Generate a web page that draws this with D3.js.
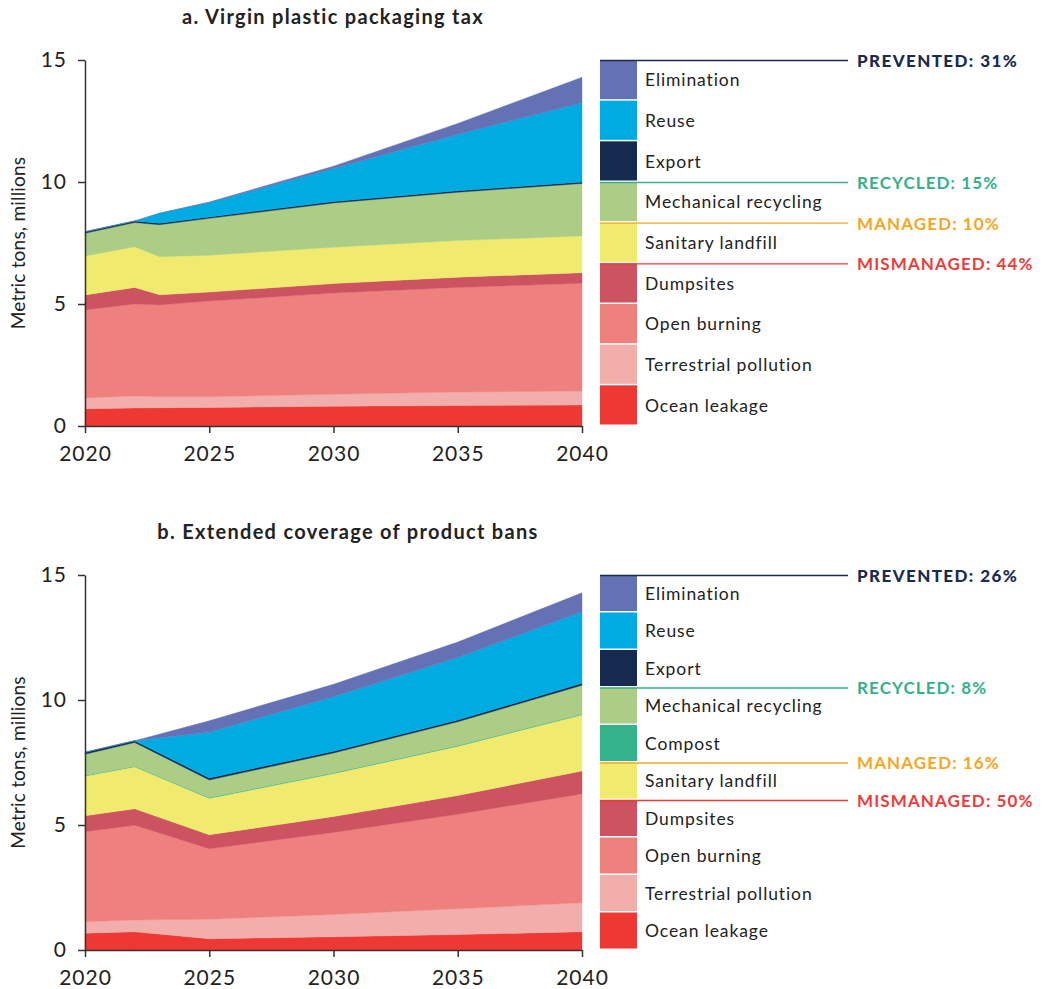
<!DOCTYPE html>
<html>
<head>
<meta charset="utf-8">
<script src="https://cdn.jsdelivr.net/npm/d3@7"></script>
<style>
  html, body { margin: 0; padding: 0; background: #fff; }
  svg { display: block; font-family: Lato, "Open Sans", sans-serif; }
</style>
</head>
<body>
<svg id="chart" width="1042" height="989"></svg>
<script>
// Panel a: virgin plastic packaging tax (million metric tons)
const taxYears        = [2020, 2022, 2023, 2025, 2030, 2035, 2040];
const taxOcean        = [0.71, 0.74, 0.75, 0.76, 0.81, 0.84, 0.86];
const taxTerrestrial  = [0.44, 0.49, 0.45, 0.44, 0.49, 0.55, 0.57];
const taxOpenBurning  = [3.60, 3.77, 3.76, 3.92, 4.15, 4.29, 4.42];
const taxDumpsites    = [0.62, 0.68, 0.42, 0.37, 0.39, 0.42, 0.43];
const taxLandfill     = [1.60, 1.67, 1.56, 1.51, 1.49, 1.50, 1.51];
const taxRecycling    = [0.93, 0.99, 1.31, 1.51, 1.81, 1.98, 2.15];
const taxExport       = [0.06, 0.06, 0.06, 0.06, 0.06, 0.06, 0.06];
const taxReuse        = [0.00, 0.00, 0.41, 0.59, 1.35, 2.31, 3.25];
const taxElimination  = [0.00, 0.00, 0.00, 0.02, 0.10, 0.45, 1.04];

// Panel b: extended coverage of product bans (million metric tons)
const banYears        = [2020, 2022, 2025, 2030, 2035, 2040];
const banOcean        = [0.67, 0.73, 0.45, 0.53, 0.62, 0.73];
const banTerrestrial  = [0.46, 0.47, 0.78, 0.89, 1.03, 1.16];
const banOpenBurning  = [3.60, 3.79, 2.82, 3.28, 3.78, 4.35];
const banDumpsites    = [0.64, 0.66, 0.56, 0.64, 0.75, 0.92];
const banLandfill     = [1.59, 1.68, 1.46, 1.72, 1.97, 2.25];
const banCompost      = [0.02, 0.02, 0.03, 0.03, 0.03, 0.03];
const banRecycling    = [0.85, 0.95, 0.70, 0.79, 0.95, 1.15];
const banExport       = [0.08, 0.07, 0.08, 0.07, 0.07, 0.08];
const banReuse        = [0.00, 0.00, 1.83, 2.18, 2.50, 2.86];
const banElimination  = [0.00, 0.00, 0.46, 0.50, 0.62, 0.76];

const yTicks = [0, 5, 10, 15];
const xTicks = [2020, 2025, 2030, 2035, 2040];

const taxGroups = [
  { name: "PREVENTED", pct: "31%", at: "Elimination" },
  { name: "RECYCLED", pct: "15%", at: "Mechanical recycling" },
  { name: "MANAGED", pct: "10%", at: "Sanitary landfill" },
  { name: "MISMANAGED", pct: "44%", at: "Dumpsites" }
];
const banGroups = [
  { name: "PREVENTED", pct: "26%", at: "Elimination" },
  { name: "RECYCLED", pct: "8%", at: "Mechanical recycling" },
  { name: "MANAGED", pct: "16%", at: "Sanitary landfill" },
  { name: "MISMANAGED", pct: "50%", at: "Dumpsites" }
];

const colors = {
  "Ocean leakage": "#ee3834",
  "Terrestrial pollution": "#f2aeab",
  "Open burning": "#ee817e",
  "Dumpsites": "#cd5361",
  "Sanitary landfill": "#f0ea6e",
  "Compost": "#35b38b",
  "Mechanical recycling": "#abcd86",
  "Export": "#172a4f",
  "Reuse": "#00abe1",
  "Elimination": "#6571b5"
};
const groupColors = {
  PREVENTED: "#1a2b50",
  RECYCLED: "#35b08a",
  MANAGED: "#f5a623",
  MISMANAGED: "#ee3b3b"
};

const svg = d3.select("#chart");

function drawPanel(opts) {
  const { title, titleX, years, series, groups, top, bottom } = opts;
  const keys = series.map(s => s.key);
  const rows = years.map((yr, i) => {
    const r = { year: yr };
    series.forEach(s => { r[s.key] = s.values[i]; });
    return r;
  });
  const stacked = d3.stack().keys(keys)(rows);

  const x = d3.scaleLinear().domain([2020, 2040]).range([85, 582]);
  const y = d3.scaleLinear().domain([0, 15]).range([bottom, top]);

  const area = d3.area()
    .x(d => x(d.data.year))
    .y0(d => y(d[0]))
    .y1(d => y(d[1]));

  const g = svg.append("g");

  g.selectAll("path.layer")
    .data(stacked)
    .join("path")
    .attr("class", "layer")
    .attr("d", area)
    .attr("fill", d => colors[d.key])
    .attr("stroke", d => colors[d.key])
    .attr("stroke-width", 0.4);

  // axes
  const yAxis = d3.axisLeft(y).tickValues(yTicks).tickSize(7).tickSizeOuter(0).tickPadding(11);
  const xAxis = d3.axisBottom(x).tickValues(xTicks).tickFormat(d3.format("d")).tickSize(7).tickSizeOuter(0).tickPadding(13);

  const ya = g.append("g").attr("transform", "translate(85,0)").call(yAxis);
  const xa = g.append("g").attr("transform", `translate(0,${bottom})`).call(xAxis);
  [ya, xa].forEach(a => {
    a.select(".domain").attr("stroke", "#333").attr("stroke-width", 1.5);
    a.selectAll(".tick line").attr("stroke", "#333").attr("stroke-width", 1.5);
    a.selectAll(".tick text")
      .attr("fill", "#222")
      .style("font-size", "21px")
      .style("letter-spacing", "1px")
      .style("font-family", "Lato, sans-serif");
  });

  g.append("text")
    .attr("transform", `translate(25,${(top + bottom) / 2}) rotate(-90)`)
    .attr("text-anchor", "middle")
    .attr("fill", "#222")
    .style("font-size", "19px")
    .style("letter-spacing", "0.2px")
    .text("Metric tons, millions");

  g.append("text")
    .attr("x", titleX)
    .attr("y", top - 36)
    .attr("text-anchor", "middle")
    .attr("fill", "#222")
    .style("font-size", "20px")
    .style("font-weight", "700")
    .style("letter-spacing", "1.3px")
    .text(title);

  // legend: top-most layer first
  const legendKeys = keys.slice().reverse();
  const step = (bottom - top) / legendKeys.length;
  const lg = g.append("g");
  legendKeys.forEach((k, i) => {
    const y0 = top + i * step;
    lg.append("rect")
      .attr("x", 600).attr("y", y0)
      .attr("width", 37).attr("height", step - 1.5)
      .attr("fill", colors[k]);
    lg.append("text")
      .attr("x", 645).attr("y", y0 + step / 2)
      .attr("dy", "0.35em")
      .attr("fill", "#222")
      .style("font-size", "17.5px")
      .style("letter-spacing", "0.9px")
      .text(k);
  });

  groups.forEach(gr => {
    const idx = legendKeys.indexOf(gr.at);
    const ly = top + idx * step + 0.5;
    lg.append("line")
      .attr("x1", 600).attr("x2", 848)
      .attr("y1", ly).attr("y2", ly)
      .attr("stroke", groupColors[gr.name])
      .attr("stroke-width", 1.3);
    lg.append("text")
      .attr("x", 857).attr("y", ly)
      .attr("dy", "0.38em")
      .attr("fill", groupColors[gr.name])
      .style("font-size", "17px")
      .style("font-weight", gr.name === "PREVENTED" ? "900" : "700")
      .style("letter-spacing", gr.name === "PREVENTED" ? "1.4px" : "1.1px")
      .text(`${gr.name}: ${gr.pct}`);
  });
}

drawPanel({
  title: "a. Virgin plastic packaging tax",
  titleX: 333,
  years: taxYears,
  top: 60, bottom: 426,
  groups: taxGroups,
  series: [
    { key: "Ocean leakage", values: taxOcean },
    { key: "Terrestrial pollution", values: taxTerrestrial },
    { key: "Open burning", values: taxOpenBurning },
    { key: "Dumpsites", values: taxDumpsites },
    { key: "Sanitary landfill", values: taxLandfill },
    { key: "Mechanical recycling", values: taxRecycling },
    { key: "Export", values: taxExport },
    { key: "Reuse", values: taxReuse },
    { key: "Elimination", values: taxElimination }
  ]
});

drawPanel({
  title: "b. Extended coverage of product bans",
  titleX: 348,
  years: banYears,
  top: 575, bottom: 950,
  groups: banGroups,
  series: [
    { key: "Ocean leakage", values: banOcean },
    { key: "Terrestrial pollution", values: banTerrestrial },
    { key: "Open burning", values: banOpenBurning },
    { key: "Dumpsites", values: banDumpsites },
    { key: "Sanitary landfill", values: banLandfill },
    { key: "Compost", values: banCompost },
    { key: "Mechanical recycling", values: banRecycling },
    { key: "Export", values: banExport },
    { key: "Reuse", values: banReuse },
    { key: "Elimination", values: banElimination }
  ]
});
</script>
</body>
</html>
